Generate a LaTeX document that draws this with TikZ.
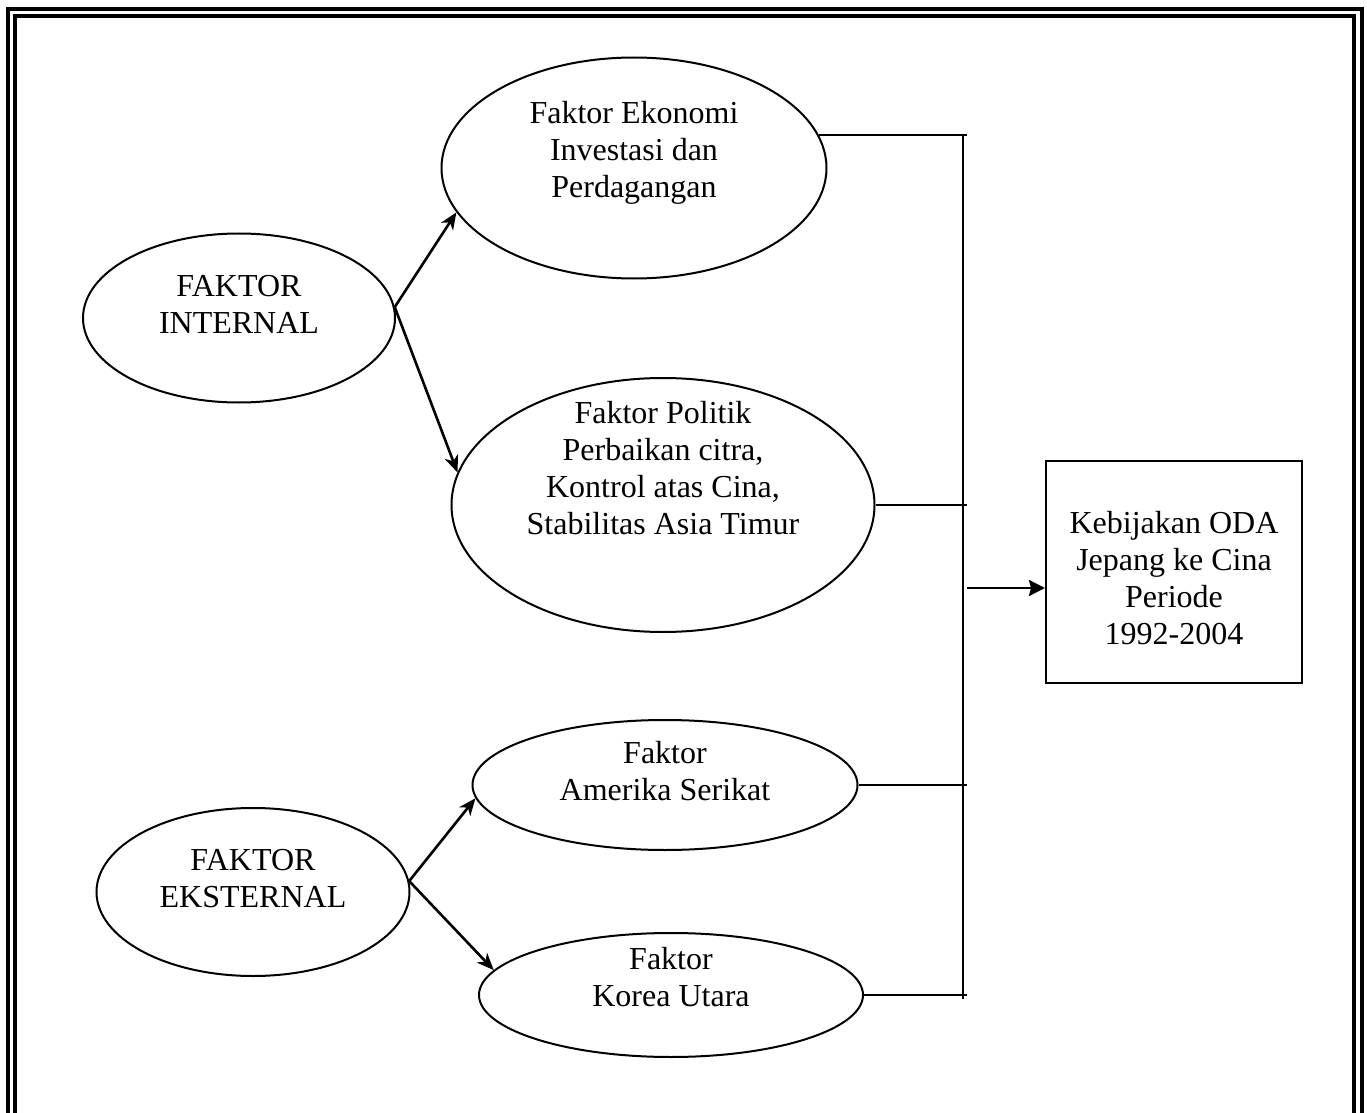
\documentclass[tikz,border=0pt]{standalone}
\usepackage{fontspec}
\setmainfont{Liberation Serif}
\usetikzlibrary{shapes.geometric,arrows.meta,positioning}

\begin{document}
\begin{tikzpicture}[x=0.5pt,y=-0.5pt]
 		\tikzstyle{main}=[ellipse, draw=black, line width=1pt, inner sep=0pt]
 		\tikzstyle{txt}=[align=center, font=\fontsize{16}{18.5}\selectfont]
 		\tikzstyle{connect}=[-{Stealth[length=8.5pt,width=7pt,inset=2.5pt]}, line width=1.3pt]
 		\tikzstyle{bus}=[line width=1.1pt]
 		\tikzstyle{frame}=[line width=1.6pt]
 		\useasboundingbox (0,0) rectangle (1367,1113);
 		% double frame, open at the bottom
 		\draw[frame] (8,1113) -- (8,9) -- (1362,9) -- (1362,1113);
 		\draw[frame] (15,1113) -- (15,16) -- (1354,16) -- (1354,1113);

 		\node[main, minimum width=156pt, minimum height=84.5pt] (internal) at (239,318) [label={[txt, name=internal-t, yshift=7pt]center:{FAKTOR\\INTERNAL}}] { };
 			\node[main, minimum width=192.5pt, minimum height=110.5pt] (ekonomi) at (634,168) [label={[txt, name=ekonomi-t, yshift=7.5pt]center:{Faktor Ekonomi\\Investasi dan\\Perdagangan}}] { };
 			\node[main, minimum width=211.5pt, minimum height=127pt] (politik) at (663,505) [label={[txt, name=politik-t, yshift=18.5pt]center:{Faktor Politik\\Perbaikan citra,\\Kontrol atas Cina,\\Stabilitas Asia Timur}}] { };
 		\node[main, minimum width=156.5pt, minimum height=84pt] (eksternal) at (253,892) [label={[txt, name=eksternal-t, yshift=6.5pt]center:{FAKTOR\\EKSTERNAL}}] { };
 			\node[main, minimum width=192.5pt, minimum height=65pt] (amerika) at (665,785) [label={[txt, name=amerika-t, yshift=7pt]center:{Faktor\\Amerika Serikat}}] { };
 			\node[main, minimum width=192pt, minimum height=62pt] (korea) at (671,995) [label={[txt, name=korea-t, yshift=9pt]center:{Faktor\\Korea Utara}}] { };
 				\node[rectangle, draw=black, line width=1pt, minimum width=128pt, minimum height=111pt] (oda) at (1174,572) [label={[txt, name=oda-t, yshift=-3pt]center:{Kebijakan ODA\\Jepang ke Cina\\Periode\\1992-2004}}] { };

 		% collecting line
 		\coordinate (bustop) at (963,135);
 		\coordinate (busbot) at (963,999);
 		\coordinate (tick) at (967,0);
 		\coordinate (out) at (967,588);
 		\draw[bus] (bustop) -- (busbot);

  		\path (internal.4) edge [connect] (ekonomi.194)
  			(internal.4) edge [connect] (politik.171)
  				(eksternal.4) edge [connect] (amerika.184)
  				(eksternal.4) edge [connect] (korea.172);
  		\draw[bus] (ekonomi.10) -- (ekonomi.10 -| tick);
  		\draw[bus] (politik.east) -- (politik.east -| tick);
  		\draw[bus] (amerika.east) -- (amerika.east -| tick);
  		\draw[bus] (korea.east) -- (korea.east -| tick);
  		\draw[connect, -{Stealth[length=8pt,width=8pt,inset=1pt]}] (out) -- (out -| oda.west);
 	 		\end{tikzpicture}
\end{document}
